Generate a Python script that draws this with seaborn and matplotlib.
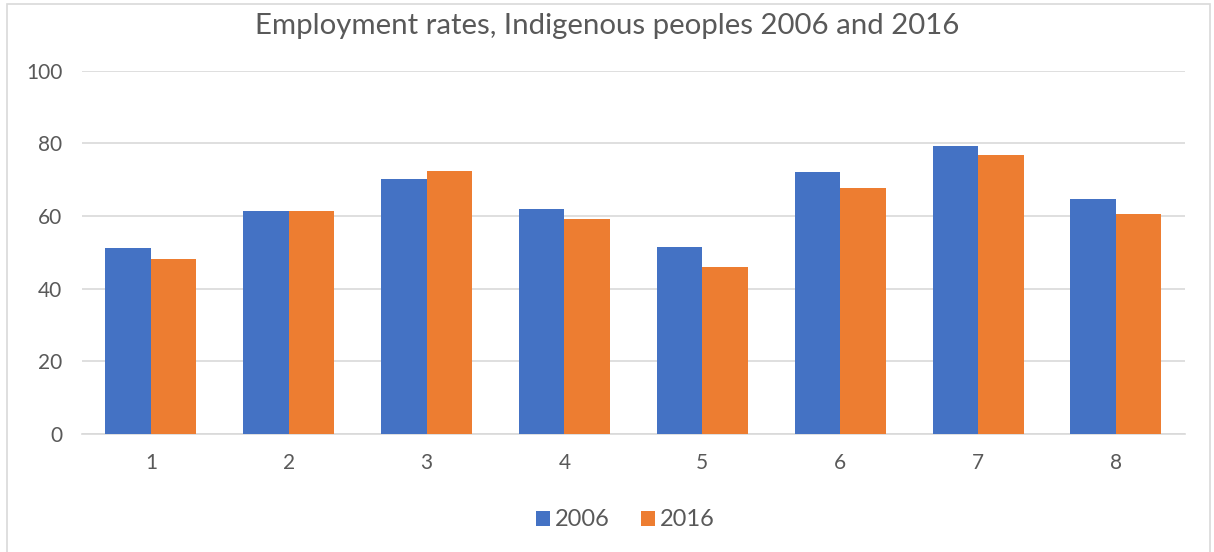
import matplotlib
matplotlib.use("Agg")
import matplotlib.pyplot as plt
from matplotlib.patches import Rectangle, Patch
import seaborn as sns
import pandas as pd

# Employment rates by group, two census years
groups = ["1", "2", "3", "4", "5", "6", "7", "8"]
rates_2006 = [51.1, 61.5, 70.3, 62.0, 51.6, 72.1, 79.3, 64.8]
rates_2016 = [48.2, 61.5, 72.3, 59.2, 45.9, 67.7, 76.8, 60.5]
years = ["2006", "2016"]
title = "Employment rates, Indigenous peoples 2006 and 2016"
y_ticks = [0, 20, 40, 60, 80, 100]

df = pd.DataFrame({
    "group": groups * 2,
    "rate": rates_2006 + rates_2016,
    "year": [years[0]] * len(groups) + [years[1]] * len(groups),
})

sns.set_theme(style="white")
plt.rcParams["font.family"] = ["Lato", "DejaVu Sans"]

TEXT = "#595959"
GRID = "#D9D9D9"
palette = {"2006": "#4472C4", "2016": "#ED7D31"}

fig = plt.figure(figsize=(12.14, 5.52), dpi=100)
ax = fig.add_axes([0.0675, 0.2138, 0.9085, 0.6582])

sns.barplot(data=df, x="group", y="rate", hue="year", palette=palette,
            width=0.66, gap=0, saturation=1, ax=ax, legend=False,
            linewidth=0, zorder=3)

ax.set_ylim(0, 100)
ax.set_xlim(-0.5, len(groups) - 0.5)
ax.set_yticks(y_ticks)
ax.yaxis.grid(True, color=GRID, linewidth=1.2, zorder=0)
ax.set_axisbelow(True)
for s in ["top", "right", "left"]:
    ax.spines[s].set_visible(False)
ax.spines["bottom"].set_color(GRID)
ax.spines["bottom"].set_linewidth(1.2)
ax.tick_params(axis="both", length=0, labelsize=15, colors=TEXT)
ax.tick_params(axis="y", pad=14)
ax.tick_params(axis="x", pad=14)
ax.set_xlabel("")
ax.set_ylabel("")

fig.text(0.5, 0.952, title, ha="center", va="center", fontsize=21.2, color=TEXT)

handles = [Patch(facecolor=palette[y], edgecolor="none") for y in years]
fig.legend(handles, years, loc="center", bbox_to_anchor=(0.515, 0.058),
           ncol=2, frameon=False, fontsize=17, labelcolor=TEXT,
           handlelength=0.6, handleheight=0.6, handletextpad=0.2,
           columnspacing=1.3)

# Chart-area frame
fig.patches.append(Rectangle((7 / 1214, -0.01), 1203 / 1214, 1 - 4 / 552 + 0.01,
                             transform=fig.transFigure, fill=False,
                             edgecolor=GRID, linewidth=1.2))

fig.savefig("out.png", dpi=100, facecolor="white")
